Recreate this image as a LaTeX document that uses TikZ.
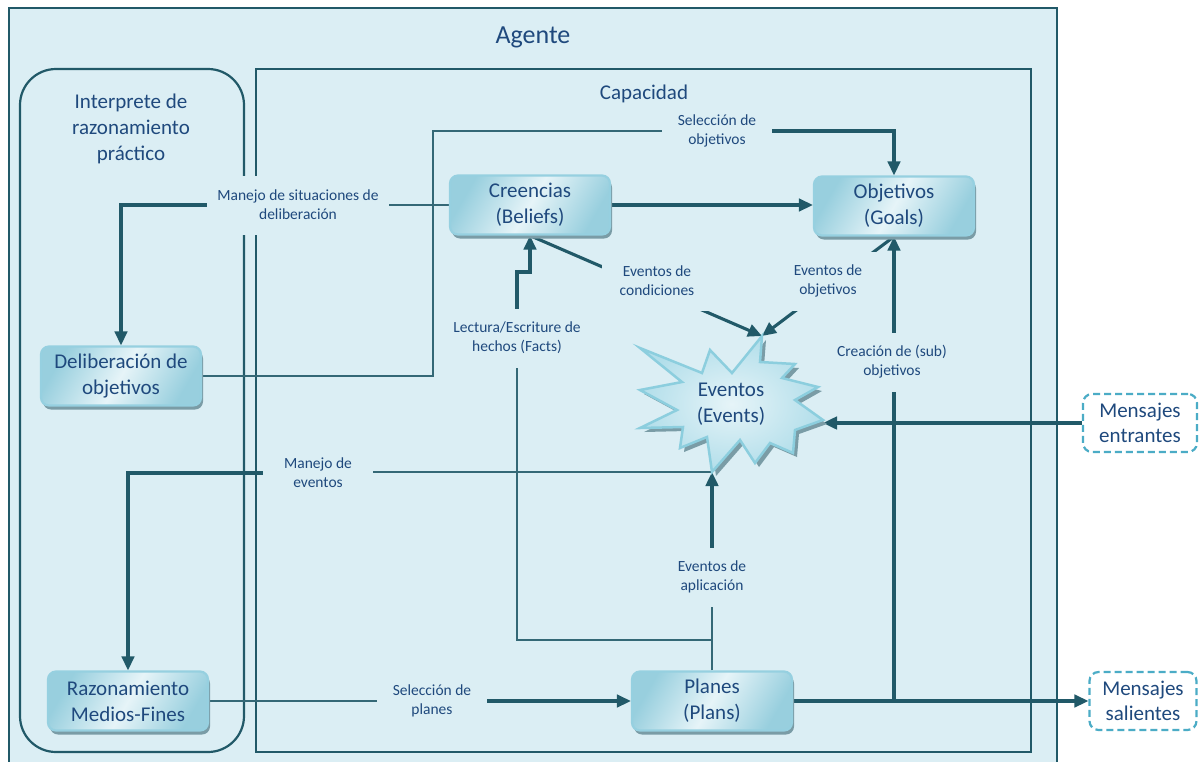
\documentclass[tikz,border=0pt]{standalone}
\usepackage{fontspec}
\setmainfont{Carlito}
\usetikzlibrary{arrows.meta,shadows}

\definecolor{bgblue}{RGB}{219,238,244}
\definecolor{linec}{RGB}{33,89,104}
\definecolor{thinc}{RGB}{52,104,118}
\definecolor{txtc}{RGB}{31,73,125}
\definecolor{boxedge}{RGB}{150,208,224}
\definecolor{boxdark}{RGB}{152,207,222}
\definecolor{boxlight}{RGB}{230,244,248}
\definecolor{shadowc}{RGB}{122,156,166}
\definecolor{msgedge}{RGB}{75,172,198}
\definecolor{stedge}{RGB}{140,206,222}
\definecolor{stouter}{RGB}{178,222,234}

\pgfdeclarelayer{frames}
\pgfdeclarelayer{links}
\pgfsetlayers{frames,links,main}

\tikzset{
  procbox/.style={draw=boxedge, line width=2.2pt, rounded corners=8pt,
    minimum width=160pt, minimum height=59pt,
    left color=boxdark, right color=boxdark, middle color=boxlight, shading angle=60,
    drop shadow={fill=shadowc, opacity=1, shadow xshift=2pt, shadow yshift=-4pt},
    text=txtc, align=center, font=\fontsize{21}{26}\selectfont},
  msgbox/.style={draw=msgedge, fill=white, line width=2.2pt, dash pattern=on 7pt off 4pt,
    rounded corners=9pt, minimum height=58pt, text=txtc, align=center,
    font=\fontsize{21}{25}\selectfont},
  flowlbl/.style={fill=bgblue, text=txtc, align=center, font=\fontsize{15.5}{19}\selectfont,
    minimum width=110pt, minimum height=59pt, inner xsep=10pt},
  thinln/.style={draw=thinc, line width=2pt},
  thickln/.style={draw=linec, line width=3.1pt},
  arrowend/.style={-{Triangle[length=14pt,width=12.5pt]}},
  frameln/.style={draw=linec, line width=2.2pt},
  titletxt/.style={text=txtc, align=center},
}

\begin{document}
\begin{tikzpicture}[x=1pt, y=-1pt]
  \useasboundingbox (0,0) rectangle (1203,761);
  \clip (0,0) rectangle (1203,761);

  % frames: agent, interpreter, capability
  \begin{pgfonlayer}{frames}
    \fill[white] (0,0) rectangle (1203,761);
    \path[frameln, fill=bgblue] (9,8) rectangle (1057,790);
    \path[frameln] (20,752) [rounded corners=36pt] -- (20,69) -- (244,69) -- (244,752) -- cycle;
    \path[frameln] (256,69) rectangle (1031,752);
  \end{pgfonlayer}

  \node[titletxt, font=\fontsize{26}{30}\selectfont] (agente) at (533,37) {Agente};
  \node[titletxt, font=\fontsize{21}{26}\selectfont] (capac) at (644,94) {Capacidad};
  \node[titletxt, font=\fontsize{21}{26}\selectfont] (interp) at (131,129)
    {Interprete de\\razonamiento\\práctico};

  % process boxes
  \node[procbox] (cre) at (530,205) {Creencias\\(Beliefs)};
  \node[procbox] (obj) at (894,206) {Objetivos\\(Goals)};
  \node[procbox] (del) at (121,376) {Deliberación de\\objetivos};
  \node[procbox] (raz) at (128,701) {Razonamiento\\Medios-Fines};
  \node[procbox] (pla) at (712,701) {Planes\\(Plans)};

  % message boxes
  \node[msgbox, minimum width=114pt] (mentr) at (1140,423) {Mensajes\\entrantes};
  \node[msgbox, minimum width=107pt] (msal) at (1143,701) {Mensajes\\salientes};

  % event burst
  \coordinate (evtop) at (762,336);
  \coordinate (evright) at (823,421);
  \coordinate (evbot) at (712,472);
  \fill[shadowc] [shift={(4,4)}]
    (762,336) -- (760,362) -- (795,364) -- (782,378) -- (818,387) -- (795,400)
    -- (823,420) -- (795,430) -- (793,453) -- (770,443) -- (755,463) -- (740,440)
    -- (712,472) -- (707,437) -- (680,448) -- (683,427) -- (640,428) -- (677,410)
    -- (640,390) -- (682,382) -- (640,348) -- (702,373) -- (710,350) -- (732,373) -- cycle;
  \shade[inner color=boxlight, outer color=stouter]
    (762,336) -- (760,362) -- (795,364) -- (782,378) -- (818,387) -- (795,400)
    -- (823,420) -- (795,430) -- (793,453) -- (770,443) -- (755,463) -- (740,440)
    -- (712,472) -- (707,437) -- (680,448) -- (683,427) -- (640,428) -- (677,410)
    -- (640,390) -- (682,382) -- (640,348) -- (702,373) -- (710,350) -- (732,373) -- cycle;
  \draw[stedge, line width=2.5pt, line join=miter]
    (762,336) -- (760,362) -- (795,364) -- (782,378) -- (818,387) -- (795,400)
    -- (823,420) -- (795,430) -- (793,453) -- (770,443) -- (755,463) -- (740,440)
    -- (712,472) -- (707,437) -- (680,448) -- (683,427) -- (640,428) -- (677,410)
    -- (640,390) -- (682,382) -- (640,348) -- (702,373) -- (710,350) -- (732,373) -- cycle;
  \node[titletxt, font=\fontsize{21}{26}\selectfont] (ev) at (731,404) {Eventos\\(Events)};

  % connector labels
  \node[flowlbl] (lblsit) at (298,205) {Manejo de situaciones de\\deliberación};
  \node[flowlbl] (lblsobj) at (717,131) {Selección de\\objetivos};
  \node[flowlbl] (lblev) at (318,473) {Manejo de\\eventos};
  \node[flowlbl] (lblapl) at (712,577) {Eventos de\\aplicación};
  \node[flowlbl] (lbllec) at (517,338) {Lectura/Escriture de\\hechos (Facts)};
  \node[flowlbl] (lblcond) at (657,281) {Eventos de\\condiciones};
  \node[flowlbl] (lblobj) at (828,281) {Eventos de\\objetivos};
  \node[flowlbl] (lblcre) at (892,362) {Creación de (sub)\\objetivos};
  \node[flowlbl] (lblspl) at (432,701) {Selección de\\planes};

  % bend points
  \coordinate (rsobj) at (433,131);
  \coordinate (rlec1) at (517,640);
  \coordinate (rlec2) at (517,272);

  \begin{pgfonlayer}{links}
    % beliefs -> goals
    \draw[thickln, arrowend] (cre.east) -- (cre.east -| obj.west);
    % deliberation handling
    \draw[thinln] (cre.west) -- (lblsit.center);
    \draw[thickln, arrowend] (lblsit.center) -| (del.north);
    % goal selection
    \draw[thinln] (del.east) -| (rsobj) -- (lblsobj.center);
    \draw[thickln, arrowend] (lblsobj.center) -| (obj.north);
    % event handling
    \draw[thinln] (evbot) -- (evbot -| lblev.center);
    \draw[thickln, arrowend] (lblev.center) -| (raz.north);
    % application events
    \draw[thinln] (pla.north) -- (lblapl.center);
    \draw[thickln, arrowend] (lblapl.center) -- (evbot);
    % facts read / write
    \draw[thinln] (pla.north) |- (rlec1) -- (lbllec.center);
    \draw[thickln, arrowend] (lbllec.center) -- (rlec2) -| (cre.south);
    % condition events and goal events
    \draw[thickln, arrowend] (cre.south) -- (evtop);
    \draw[thickln, arrowend] (obj.south) -- (evtop);
    % (sub)goal creation
    \draw[thickln, arrowend] (pla.east) -| (obj.south);
    % plan selection
    \draw[thinln] (raz.east) -- (lblspl.center);
    \draw[thickln, arrowend] (lblspl.center) -- (lblspl.center -| pla.west);
    % messages
    \draw[thickln, arrowend] (pla.east) -- (msal.west);
    \draw[thickln, arrowend] (mentr.west) -- (mentr.west -| evright);
  \end{pgfonlayer}
\end{tikzpicture}
\end{document}
